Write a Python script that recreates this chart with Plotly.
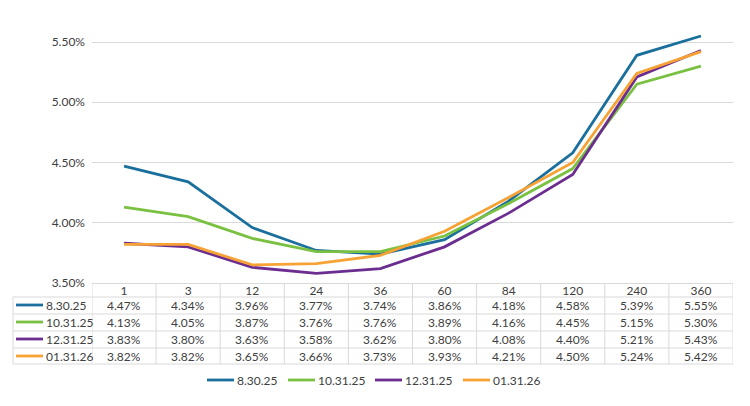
import plotly.graph_objects as go

# ---- data ----
maturities = ["1", "3", "12", "24", "36", "60", "84", "120", "240", "360"]
series_names = ["8.30.25", "10.31.25", "12.31.25", "01.31.26"]
s_8_30_25 = [4.47, 4.34, 3.96, 3.77, 3.74, 3.86, 4.18, 4.58, 5.39, 5.55]
s_10_31_25 = [4.13, 4.05, 3.87, 3.76, 3.76, 3.89, 4.16, 4.45, 5.15, 5.30]
s_12_31_25 = [3.83, 3.80, 3.63, 3.58, 3.62, 3.80, 4.08, 4.40, 5.21, 5.43]
s_01_31_26 = [3.82, 3.82, 3.65, 3.66, 3.73, 3.93, 4.21, 4.50, 5.24, 5.42]
y_ticks = [3.5, 4.0, 4.5, 5.0, 5.5]

series_values = [s_8_30_25, s_10_31_25, s_12_31_25, s_01_31_26]
colors = ["#1a6f9c", "#7ac142", "#6b2d8f", "#f7a234"]

FONT = "Lato"
TXT = "#404040"
GRID = "#d9d9d9"

OFF = 8                      # page body margin
W, H = 750 - OFF, 406 - OFF
PL, PR, PT, PB = 92, 733, 30, 283   # plot area in page pixels
L, T = PL - OFF, PT - OFF
R = W - (PR - OFF)
B = H - (PB - OFF)
PW = PR - PL

fig = go.Figure()
for name, vals, col in zip(series_names, series_values, colors):
    fig.add_trace(go.Scatter(x=maturities, y=vals, mode="lines", name=name,
                             line=dict(color=col, width=2.8), showlegend=False))

shapes = []
annos = []

def px2paper(px):
    return (px - PL) / PW

row_offsets = [-22, -39, -56, -73]     # text centre offsets (px below axis)
row_lines = [-14, -31, -48, -65, -81]  # horizontal table lines
table_left = 13

for yo in row_lines:
    shapes.append(dict(type="line", xref="paper", yref="paper", ysizemode="pixel", yanchor=0,
                       x0=px2paper(table_left), x1=1, y0=yo, y1=yo,
                       line=dict(color=GRID, width=1)))
for i in range(len(maturities) + 1):
    shapes.append(dict(type="line", xref="x", yref="paper", ysizemode="pixel", yanchor=0,
                       x0=i - 0.5, x1=i - 0.5, y0=0, y1=row_lines[-1],
                       line=dict(color=GRID, width=1)))
shapes.append(dict(type="line", xref="paper", yref="paper", ysizemode="pixel", yanchor=0,
                   x0=px2paper(table_left), x1=px2paper(table_left), y0=row_lines[0], y1=row_lines[-1],
                   line=dict(color=GRID, width=1)))

for r, (name, vals, col) in enumerate(zip(series_names, series_values, colors)):
    yo = row_offsets[r]
    shapes.append(dict(type="line", xref="paper", yref="paper", ysizemode="pixel", yanchor=0,
                       x0=px2paper(16), x1=px2paper(43), y0=yo, y1=yo,
                       line=dict(color=col, width=2.8)))
    annos.append(dict(xref="paper", yref="paper", x=px2paper(44), y=0, yshift=yo,
                      text=name, showarrow=False, xanchor="left", yanchor="middle",
                      font=dict(family=FONT, size=12, color=TXT)))
    for i, v in enumerate(vals):
        annos.append(dict(xref="x", yref="paper", x=i, y=0, yshift=yo,
                          text=f"{v:.2f}%", showarrow=False, xanchor="center", yanchor="middle",
                          font=dict(family=FONT, size=12, color=TXT)))

leg_y = -(380 - PB)
leg_x = [207, 288, 375, 463]
for name, col, x0 in zip(series_names, colors, leg_x):
    shapes.append(dict(type="line", xref="paper", yref="paper", ysizemode="pixel", yanchor=0,
                       x0=px2paper(x0), x1=px2paper(x0 + 27), y0=leg_y, y1=leg_y,
                       line=dict(color=col, width=2.8)))
    annos.append(dict(xref="paper", yref="paper", x=px2paper(x0 + 28), y=0, yshift=leg_y,
                      text=name, showarrow=False, xanchor="left", yanchor="middle",
                      font=dict(family=FONT, size=12, color=TXT)))

fig.update_layout(
    width=W, height=H,
    margin=dict(l=L, r=R, t=T, b=B),
    paper_bgcolor="white", plot_bgcolor="white",
    font=dict(family=FONT, size=12, color=TXT),
    shapes=shapes, annotations=annos,
    xaxis=dict(type="category", range=[-0.5, len(maturities) - 0.5], showgrid=False,
               showline=True, linecolor=GRID, ticks="", tickfont=dict(size=12, color=TXT),
               ticklabelstandoff=-3, zeroline=False),
    yaxis=dict(range=[3.5, 5.6], tickvals=y_ticks,
               ticktext=[f"{v:.2f}%" for v in y_ticks],
               showgrid=True, gridcolor=GRID, gridwidth=1, zeroline=False,
               ticks="", ticklabelstandoff=6, tickfont=dict(size=12, color=TXT)),
)

fig.write_html("out.html")
